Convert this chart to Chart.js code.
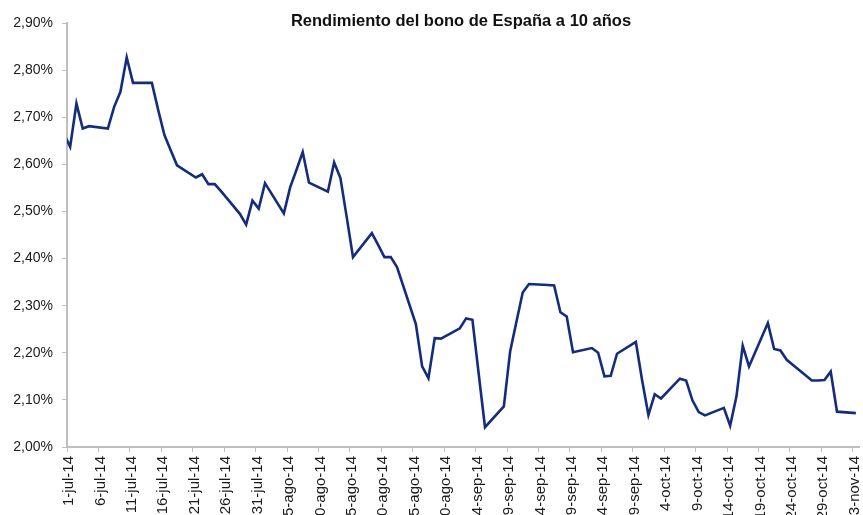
<!DOCTYPE html>
<html>
<head>
<meta charset="utf-8">
<script src="https://cdn.jsdelivr.net/npm/chart.js@4.4.1/dist/chart.umd.min.js"></script>
<style>
html,body{margin:0;padding:0;background:#fff;}
#wrap{width:863px;height:515px;overflow:hidden;}
</style>
</head>
<body>
<div id="wrap"><canvas id="c" width="863" height="515"></canvas></div>
<script>
const chartTitle = "Rendimiento del bono de España a 10 años";

// Trading days (the first one lies just left of the axis and is clipped)
const tradeDates = [
  "2014-06-30","2014-07-01","2014-07-02","2014-07-03","2014-07-04",
  "2014-07-07","2014-07-08","2014-07-09","2014-07-10","2014-07-11",
  "2014-07-14","2014-07-15","2014-07-16","2014-07-17","2014-07-18",
  "2014-07-21","2014-07-22","2014-07-23","2014-07-24","2014-07-25",
  "2014-07-28","2014-07-29","2014-07-30","2014-07-31","2014-08-01",
  "2014-08-04","2014-08-05","2014-08-06","2014-08-07","2014-08-08",
  "2014-08-11","2014-08-12","2014-08-13","2014-08-14","2014-08-15",
  "2014-08-18","2014-08-19","2014-08-20","2014-08-21","2014-08-22",
  "2014-08-25","2014-08-26","2014-08-27","2014-08-28","2014-08-29",
  "2014-09-01","2014-09-02","2014-09-03","2014-09-04","2014-09-05",
  "2014-09-08","2014-09-09","2014-09-10","2014-09-11","2014-09-12",
  "2014-09-15","2014-09-16","2014-09-17","2014-09-18","2014-09-19",
  "2014-09-22","2014-09-23","2014-09-24","2014-09-25","2014-09-26",
  "2014-09-29","2014-09-30","2014-10-01","2014-10-02","2014-10-03",
  "2014-10-06","2014-10-07","2014-10-08","2014-10-09","2014-10-10",
  "2014-10-13","2014-10-14","2014-10-15","2014-10-16","2014-10-17",
  "2014-10-20","2014-10-21","2014-10-22","2014-10-23","2014-10-24",
  "2014-10-27","2014-10-28","2014-10-29","2014-10-30","2014-10-31",
  "2014-11-03"
];

// 10-year Spanish bond yield, %
const yieldValues = [
  2.665, 2.637, 2.729, 2.676, 2.681,
  2.676, 2.722, 2.754, 2.827, 2.773,
  2.773, 2.716, 2.662, 2.630, 2.598,
  2.572, 2.579, 2.558, 2.558, 2.543,
  2.495, 2.472, 2.523, 2.506, 2.560,
  2.496, 2.551, 2.588, 2.626, 2.561,
  2.542, 2.604, 2.571, 2.488, 2.403,
  2.454, 2.429, 2.403, 2.403, 2.382,
  2.261, 2.171, 2.146, 2.231, 2.230,
  2.252, 2.273, 2.270, 2.155, 2.042,
  2.086, 2.203, 2.266, 2.328, 2.346,
  2.344, 2.343, 2.286, 2.277, 2.201,
  2.210, 2.200, 2.150, 2.151, 2.198,
  2.223, 2.141, 2.068, 2.112, 2.103,
  2.145, 2.141, 2.099, 2.074, 2.067,
  2.083, 2.045, 2.107, 2.215, 2.171,
  2.263, 2.208, 2.205, 2.185, 2.174,
  2.141, 2.141, 2.142, 2.160, 2.075,
  2.072
];

const xTickLabels = [
  "1-jul-14","6-jul-14","11-jul-14","16-jul-14","21-jul-14","26-jul-14","31-jul-14",
  "5-ago-14","10-ago-14","15-ago-14","20-ago-14","25-ago-14","30-ago-14",
  "4-sep-14","9-sep-14","14-sep-14","19-sep-14","24-sep-14","29-sep-14",
  "4-oct-14","9-oct-14","14-oct-14","19-oct-14","24-oct-14","29-oct-14","3-nov-14"
];

const yTickLabels = ["2,00%","2,10%","2,20%","2,30%","2,40%","2,50%","2,60%","2,70%","2,80%","2,90%"];

const axisStart = "2014-07-01";
const dayMs = 86400000;
function dayIndex(s){
  const [a,b,c] = s.split("-").map(Number);
  const [a0,b0,c0] = axisStart.split("-").map(Number);
  return Math.round((Date.UTC(a,b-1,c) - Date.UTC(a0,b0-1,c0)) / dayMs);
}
// each trading day is plotted in the middle of its calendar-day slot
const points = tradeDates.map((d,i) => ({x: dayIndex(d) + 0.5, y: yieldValues[i]}));

const FONT = "'Liberation Sans', Arial, sans-serif";
const axisGray = "#bfbfbf";

const titlePlugin = {
  id: 'floatTitle',
  afterDraw(chart){
    const ctx = chart.ctx;
    const a = chart.chartArea;
    ctx.save();
    ctx.font = "bold 16.5px " + FONT;
    ctx.fillStyle = "#111";
    ctx.textAlign = "center";
    ctx.textBaseline = "middle";
    ctx.fillText(chartTitle, 461, 21);
    ctx.restore();
  }
};

new Chart(document.getElementById('c'), {
  type: 'line',
  data: {
    datasets: [{
      data: points,
      borderColor: '#132d7c',
      borderWidth: 2.6,
      pointRadius: 0,
      pointHoverRadius: 0,
      tension: 0,
      fill: false,
      clip: 0
    }]
  },
  options: {
    responsive: false,
    devicePixelRatio: 1,
    animation: false,
    events: [],
    layout: { padding: { top: 23, right: 4, bottom: 0, left: 0 } },
    plugins: { legend: { display: false }, tooltip: { enabled: false }, title: { display: false } },
    scales: {
      x: {
        type: 'linear',
        position: 'bottom',
        min: 0,
        max: 126,
        afterFit(scale){ scale.height = 68; scale.paddingLeft = 0; scale.paddingRight = 0; },
        grid: { display: true, drawOnChartArea: false, drawTicks: true, tickLength: 5, color: axisGray, lineWidth: 1 },
        border: { display: true, color: axisGray, width: 2 },
        ticks: {
          stepSize: 5,
          includeBounds: false,
          autoSkip: false,
          maxRotation: 90,
          minRotation: 90,
          padding: 4,
          labelOffset: 2,
          color: '#1a1a1a',
          font: { family: FONT, size: 15 },
          callback(v){ const i = Math.round(v / 5); return xTickLabels[i] !== undefined ? xTickLabels[i] : ''; }
        }
      },
      y: {
        min: 2.0,
        max: 2.9,
        afterFit(scale){ scale.width = 67; scale.paddingTop = 0; scale.paddingBottom = 0; },
        grid: { display: true, drawOnChartArea: false, drawTicks: true, tickLength: 5, color: axisGray, lineWidth: 1 },
        border: { display: true, color: axisGray, width: 2 },
        ticks: {
          stepSize: 0.1,
          padding: 9,
          color: '#1a1a1a',
          font: { family: FONT, size: 14 },
          callback(v){ const i = Math.round((v - 2.0) * 10); return yTickLabels[i] !== undefined ? yTickLabels[i] : ''; }
        }
      }
    }
  },
  plugins: [titlePlugin]
});
</script>
</body>
</html>
